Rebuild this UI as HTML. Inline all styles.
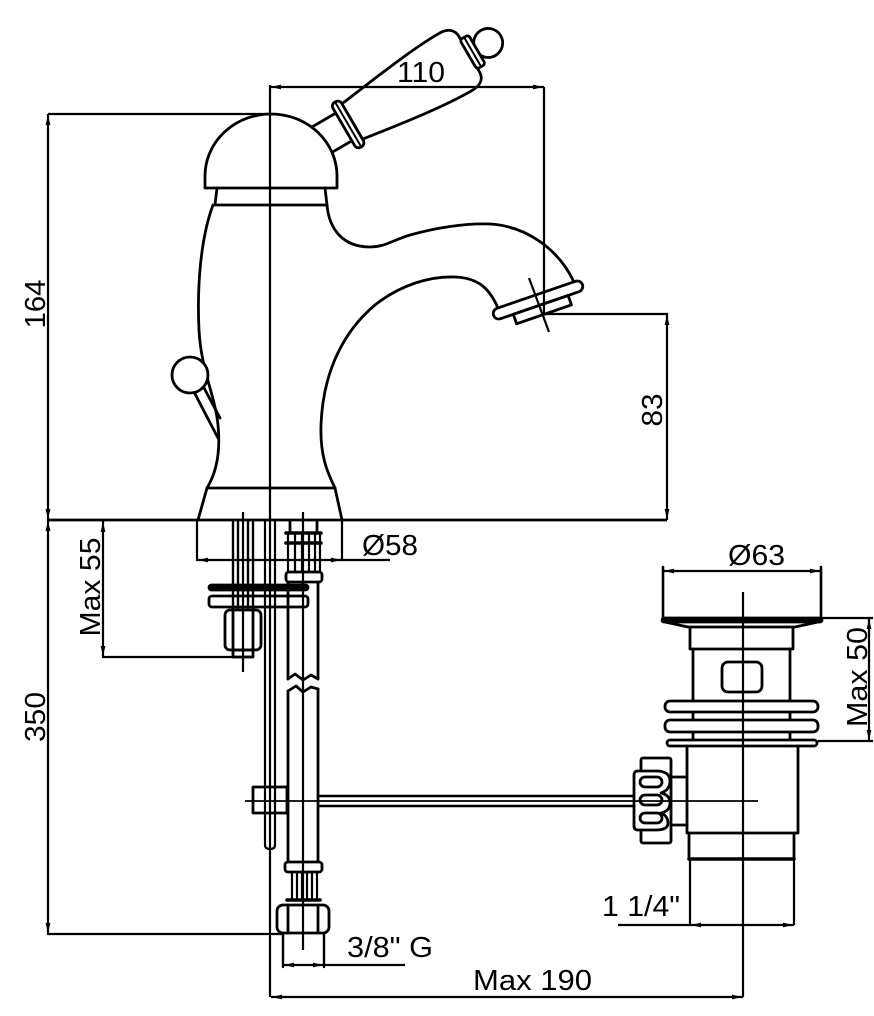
<!DOCTYPE html>
<html><head><meta charset="utf-8">
<style>
html,body{margin:0;padding:0;background:#fff;}
svg{display:block;}
text{font-family:"Liberation Sans",sans-serif;font-size:29px;fill:#000;}
</style></head>
<body>
<svg width="874" height="1016" viewBox="0 0 874 1016" xmlns="http://www.w3.org/2000/svg">
<rect width="874" height="1016" fill="#fff"/>
<g fill="none" stroke="#000" stroke-width="2.8" stroke-linejoin="round" stroke-linecap="round">

<!-- HANDLE -->
<g transform="translate(330,135) rotate(-30.2)">
  <path d="M-22,-16 L16,-16 M-22,16 L16,16"/>
  <path d="M26,-21 C60,-25 110,-33 145,-33 C156,-33 161,-28 161,-20 L161,20 C161,28 156,33 145,33 C110,33 60,25 26,20 Z" fill="#fff"/>
  <rect x="16" y="-26" width="10" height="52" rx="4.5" fill="#fff"/>
  <path d="M21,-25 L21,25" stroke-width="2"/>
  <circle cx="183" cy="0" r="14.5" fill="#fff"/>
  <rect x="160" y="-17" width="10" height="34" rx="3" fill="#fff"/>
  <path d="M165,-16 L165,16" stroke-width="2"/>
</g>

<!-- DOME -->
<path d="M205,188 L205,176 A66,62 0 0 1 337,176 L337,188 Z" fill="#fff"/>
<!-- collar -->
<path d="M217,188 L215,205 L327,205 L325,188"/>

<!-- BODY -->
<path d="M213,205 C200,240 197,290 199,330 C201,370 215,395 218,425 C221,455 215,475 207,488"/>
<path d="M327,205 C329,228 342,247 370,247 C385,247 393,240 410,235 C435,228 465,223 490,224 C525,226 558,248 574,282"/>
<path d="M498,308 C490,290 480,278 455,277 C430,276 400,285 375,305 C345,330 323,370 321,425 C320,455 327,472 335,488"/>
<path d="M207,488 L335,488 M207,488 L198,520 M335,488 L342,520"/>

<!-- aerator -->
<g transform="translate(538,300) rotate(-19)">
  <rect x="-47" y="-5.5" width="94" height="11" rx="5.5" fill="#fff"/>
  <rect x="-28" y="5.5" width="58" height="10"/>
</g>

<!-- lever -->
<path d="M193,390 L218,438 M203,386 L220,418"/>
<circle cx="190" cy="375" r="18" fill="#fff"/>

<!-- LEFT STUD / ROD / HOSE -->
<path d="M233,522 L233,610 M238,522 L238,610 M248,522 L248,610 M253,522 L253,610" stroke-width="2.4"/>
<path d="M265,520 L265,845 Q265,849 270,849 Q275,849 275,845 L275,520" stroke-width="2.2"/>
<rect x="209" y="585" width="99" height="5" rx="2.5" fill="#000"/>
<rect x="209" y="596" width="99" height="11" rx="3"/>
<rect x="225" y="610" width="36" height="40" rx="5" fill="#fff"/>
<path d="M233,610 L233,650 M253,610 L253,650"/>
<rect x="233" y="650" width="20" height="7"/>

<!-- hose top connector -->
<path d="M290,522 L290,533 M317,522 L317,533"/>
<path d="M286,533 L321,533 M286,543 L321,543" stroke-width="3.6"/>
<path d="M288,533 L288,572 M295,533 L295,572 M302,533 L302,572 M309,533 L309,572 M315,533 L315,572 M320,533 L320,572" stroke-width="2.2"/>
<rect x="286" y="572" width="36" height="10" rx="3" fill="#fff"/>
<!-- hose -->
<path d="M288,582 L288,679 M318,582 L318,679"/>
<path d="M288,679 L295,674 L303,680 L311,675 L318,679"/>
<path d="M288,691 L296,686 L303,692 L311,687 L318,689"/>
<path d="M288,691 L288,862 M318,689 L318,862"/>
<!-- hose bottom -->
<rect x="285" y="862" width="37" height="10" rx="3" fill="#fff"/>
<path d="M292,872 L292,900 M297,872 L297,900 M302,872 L302,900 M307,872 L307,900 M312,872 L312,900 M317,872 L317,900" stroke-width="2.2"/>
<path d="M287,900 L320,900" stroke-width="3.6"/>
<rect x="277" y="905" width="52" height="28" rx="6" fill="#fff"/>
<path d="M288,905 L288,933 M318,905 L318,933"/>
<path d="M283,933 L283,967 M324,933 L324,967" stroke-width="2.4"/>

<!-- clamp -->
<rect x="253" y="787" width="34" height="26" fill="#fff"/>
<path d="M265,787 L265,813 M275,787 L275,813" stroke-width="2.2"/>
<!-- horizontal rod -->
<path d="M318,796 L636,796 M318,806 L636,806" stroke-width="2.4"/>

<!-- WASTE -->
<path d="M663,567 L663,620 M821,567 L821,620" stroke-width="2.6"/>
<rect x="662" y="618" width="160" height="4" rx="2" fill="#000"/>
<path d="M665,622 L688,627 L795,627 L818,622"/>
<path d="M690,627 L690,649 M793,627 L793,649 M690,649 L793,649"/>
<path d="M693,649 L693,746 M790,649 L790,746"/>
<rect x="722" y="662" width="40" height="30" rx="6"/>
<rect x="665" y="701" width="153" height="11" rx="5" fill="#fff"/>
<rect x="665" y="720" width="153" height="12" rx="5" fill="#fff"/>
<rect x="667" y="740" width="150" height="6" rx="3" fill="#fff"/>
<path d="M687,746 L687,833 L798,833 L798,746"/>
<path d="M689,833 L689,859 M794,833 L794,859"/>
<path d="M689,859 L794,859" stroke-width="3.6"/>
<!-- waste nut -->
<rect x="641" y="758" width="30" height="85" rx="2"/>
<path d="M656,771 L638,771 Q634,771 634,775 L634,826 Q634,830 638,830 L656,830 Q668,830 668,823 Q668,816 661,813 Q670,811 670,803 Q670,795 661,793 Q670,790 670,781 Q670,771 656,771 Z" fill="#fff"/>
<rect x="640" y="777" width="22" height="10" rx="5"/>
<rect x="640" y="795" width="22" height="10" rx="5"/>
<rect x="640" y="813" width="22" height="10" rx="5"/>
<path d="M671,777 L687,777 M671,825 L687,825"/>
</g>

<!-- DIMENSION LINES -->
<g fill="none" stroke="#000" stroke-width="2.2" stroke-linecap="butt">
<path d="M270,87 L544,87"/>
<path d="M544,87 L544,314"/>
<path d="M529,278 L549,332"/>
<path d="M544,314 L667,314 L667,520"/>
<path d="M48,520 L667,520" stroke-width="2.8"/>
<path d="M48,114 L270,114 M48,114 L48,935"/>
<path d="M48,934 L282,934"/>
<path d="M270,85 L270,997"/>
<path d="M271,997 L743,997"/>
<path d="M103,521 L103,657 L253,657"/>
<path d="M197,520 L197,561 M342,520 L342,561 M197,560 L390,560"/>
<path d="M663,571 L821,571"/>
<path d="M821,618 L873,618 M869,618 L869,741 M818,741 L873,741"/>
<path d="M618,925 L794,925 M690,859 L690,925 M794,859 L794,925"/>
<path d="M283,965 L405,965"/>
<path d="M743,592 L743,997"/>
<path d="M243,512 L243,672"/>
<path d="M303,512 L303,950"/>
<path d="M245,801 L758,801" stroke-width="1.8"/>
</g>

<!-- ARROWHEADS -->
<g fill="#000" stroke="none">
<polygon points="271,87 281,84.6 281,89.4"/>
<polygon points="543,87 533,84.6 533,89.4"/>
<polygon points="48,115 45.6,125 50.4,125"/>
<polygon points="48,519 45.6,509 50.4,509"/>
<polygon points="48,521 45.6,531 50.4,531"/>
<polygon points="48,933 45.6,923 50.4,923"/>
<polygon points="667,315 664.6,325 669.4,325"/>
<polygon points="667,519 664.6,509 669.4,509"/>
<polygon points="103,522 100.6,532 105.4,532"/>
<polygon points="103,656 100.6,646 105.4,646"/>
<polygon points="198,560 208,557.6 208,562.4"/>
<polygon points="341,560 331,557.6 331,562.4"/>
<polygon points="664,571 674,568.6 674,573.4"/>
<polygon points="820,571 810,568.6 810,573.4"/>
<polygon points="869,619 866.6,629 871.4,629"/>
<polygon points="869,740 866.6,730 871.4,730"/>
<polygon points="691,925 701,922.6 701,927.4"/>
<polygon points="793,925 783,922.6 783,927.4"/>
<polygon points="284,965 294,962.6 294,967.4"/>
<polygon points="323,965 313,962.6 313,967.4"/>
<polygon points="272,997 282,994.6 282,999.4"/>
<polygon points="742,997 732,994.6 732,999.4"/>
</g>

<!-- TEXT -->
<text x="421" y="82" text-anchor="middle" textLength="48" lengthAdjust="spacingAndGlyphs">110</text>
<text transform="translate(45,304) rotate(-90)" text-anchor="middle" textLength="49" lengthAdjust="spacingAndGlyphs">164</text>
<text transform="translate(662,410) rotate(-90)" text-anchor="middle" textLength="33" lengthAdjust="spacingAndGlyphs">83</text>
<text x="362" y="555" textLength="56" lengthAdjust="spacingAndGlyphs">Ø58</text>
<text transform="translate(100,587) rotate(-90)" text-anchor="middle" textLength="99" lengthAdjust="spacingAndGlyphs">Max 55</text>
<text transform="translate(45,717) rotate(-90)" text-anchor="middle" textLength="50" lengthAdjust="spacingAndGlyphs">350</text>
<text x="728" y="565" textLength="57" lengthAdjust="spacingAndGlyphs">Ø63</text>
<text transform="translate(867,677) rotate(-90)" text-anchor="middle" textLength="100" lengthAdjust="spacingAndGlyphs">Max 50</text>
<text x="602" y="916" textLength="78" lengthAdjust="spacingAndGlyphs">1 1/4"</text>
<text x="347" y="957" textLength="86" lengthAdjust="spacingAndGlyphs">3/8" G</text>
<text x="473" y="990" textLength="119" lengthAdjust="spacingAndGlyphs">Max 190</text>
</svg>
</body></html>
